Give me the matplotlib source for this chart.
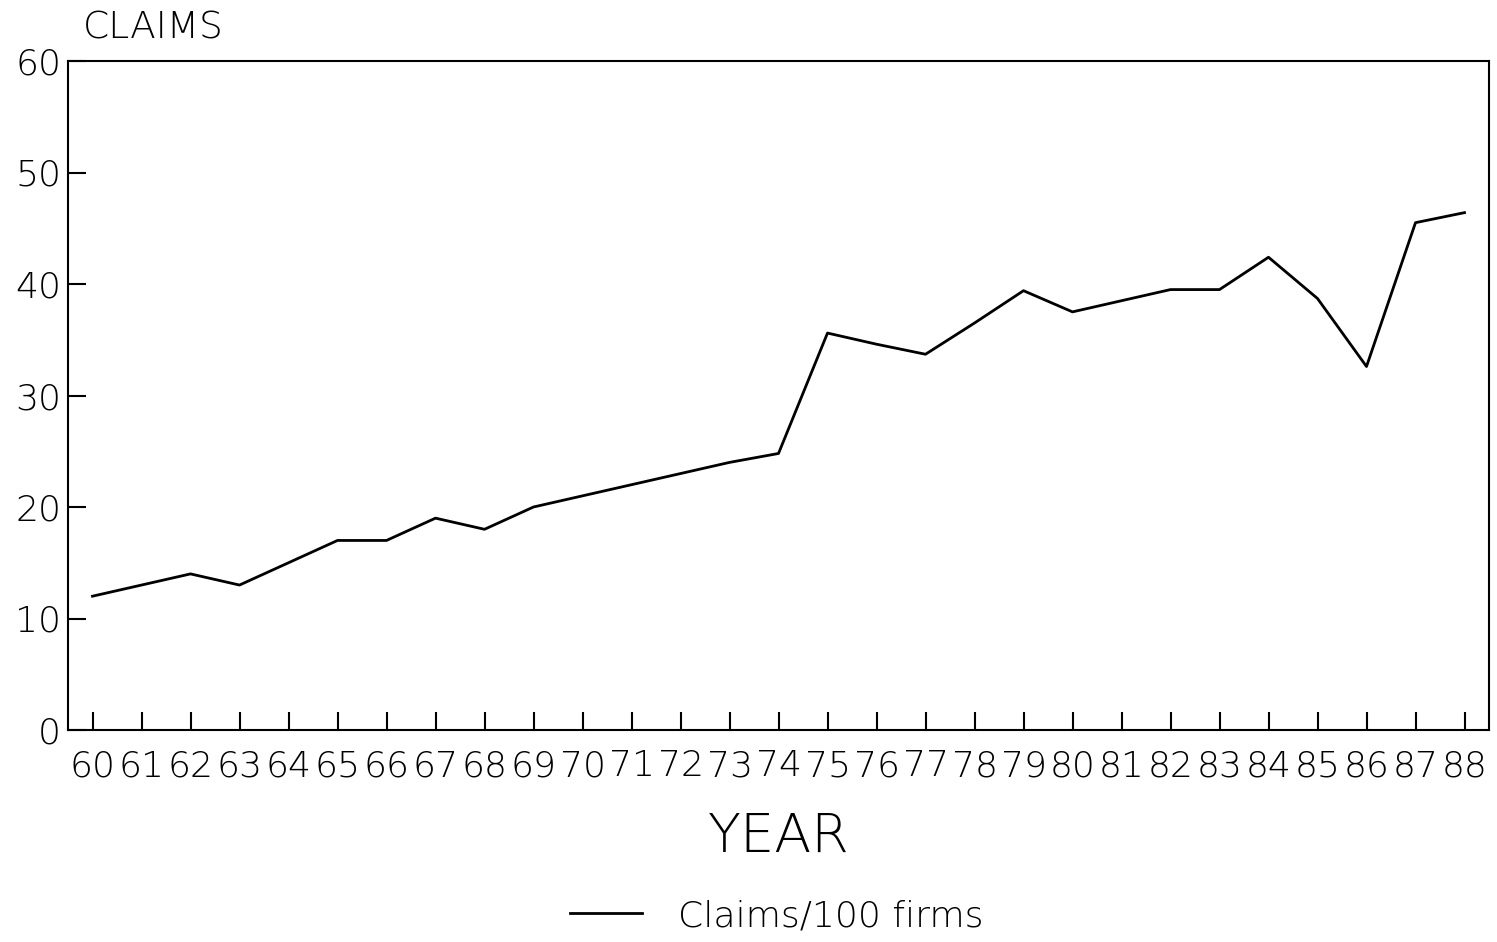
import matplotlib
matplotlib.use("Agg")
import matplotlib.pyplot as plt

years = list(range(60, 89))
tick_labels = [str(y) for y in years]
claims = [12.0, 13.0, 14.0, 13.0, 15.0, 17.0, 17.0, 19.0, 18.0, 20.0,
          21.0, 22.0, 23.0, 24.0, 24.8, 35.6, 34.6, 33.7, 36.5, 39.4,
          37.5, 38.5, 39.5, 39.5, 42.4, 38.7, 32.6, 45.5, 46.4]
y_ticks = [0, 10, 20, 30, 40, 50, 60]

plt.rcParams['font.family'] = ['DejaVu Sans']

fig = plt.figure(figsize=(14.97, 9.42), dpi=100)
ax = fig.add_axes([68/1497, 1-730/942, (1489-68)/1497, (730-61)/942])

ax.plot(years, claims, color='black', linewidth=2.0, label='Claims/100 firms')

ax.set_xlim(59.5, 88.5)
ax.set_ylim(0, 60)
ax.set_xticks(years)
ax.set_xticklabels(tick_labels)
ax.set_yticks(y_ticks)
ax.tick_params(axis='both', direction='in', length=13, width=1.5, labelsize=26, colors='black')
ax.tick_params(axis='x', pad=14)
ax.tick_params(axis='y', pad=5)
for lbl in ax.get_xticklabels() + ax.get_yticklabels():
    lbl.set_fontweight('light')
for s in ax.spines.values():
    s.set_linewidth(1.5)

ax.set_xlabel('YEAR', fontsize=39, fontweight='light', labelpad=20)
fig.text(83/1497, 1-28/942, 'CLAIMS', fontsize=27, fontweight='light', va='center', ha='left')

fig.legend(loc='center', bbox_to_anchor=(777/1497, 1-916/942), frameon=False,
           handlelength=2.0, handletextpad=1.0, prop={'size': 26, 'weight': 'light'})

fig.savefig('out.png', dpi=100)
